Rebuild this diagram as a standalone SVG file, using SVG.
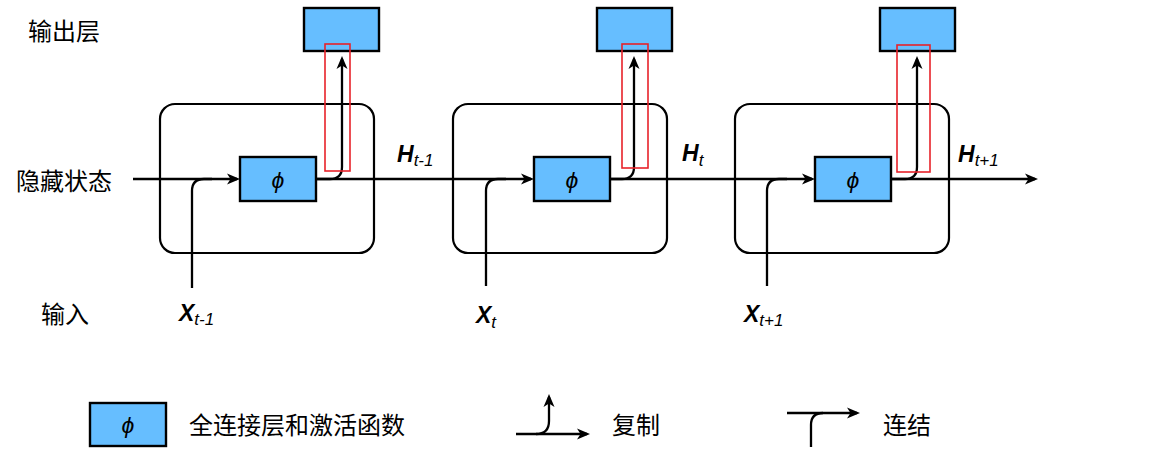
<svg xmlns="http://www.w3.org/2000/svg" width="1157" height="473" viewBox="0 0 1157 473">
<style>
.cell{fill:none;stroke:#000;stroke-width:2.2}
.box{fill:#66BEFF;stroke:#000;stroke-width:2.4}
.red{fill:none;stroke:#E8222A;stroke-width:1.6}
.ln{fill:none;stroke:#000;stroke-width:2.3}
.arr{marker-end:url(#ah)}
.cjk{font-family:"Noto Sans CJK SC","Noto Sans",sans-serif;font-size:24px;fill:#000}
.lab{font-family:"Liberation Sans",Arial,sans-serif;font-size:23px;font-weight:bold;font-style:italic;fill:#000}
.sub{font-size:17px;font-weight:normal}
.phi{font-family:"Liberation Sans",Arial,sans-serif;font-size:23px;font-style:italic;fill:#000;text-anchor:middle}
</style>
<defs>
<marker id="ah" markerUnits="userSpaceOnUse" markerWidth="16" markerHeight="14" refX="10" refY="5.5" orient="auto" overflow="visible">
<path d="M0,0 L13,5.5 L0,11 L3.5,5.5 Z" fill="#000"/>
</marker>
</defs>
<rect width="1157" height="473" fill="#fff"/>
<g id="row-labels">
<text class="cjk" x="64" y="40" text-anchor="middle">输出层</text>
<text class="cjk" x="64" y="190" text-anchor="middle">隐藏状态</text>
<text class="cjk" x="65" y="323" text-anchor="middle">输入</text>
</g>
<g id="cell1">
<rect class="cell" x="160" y="104" width="214" height="149" rx="15"/>
<rect class="box" x="240" y="157" width="76" height="44"/>
<text class="phi" x="278" y="188">ϕ</text>
</g>
<g id="out1"><rect class="box" x="304" y="8" width="75" height="43"/></g>
<g id="cell2">
<rect class="cell" x="453" y="104" width="214" height="149" rx="15"/>
<rect class="box" x="534" y="157" width="76" height="44"/>
<text class="phi" x="572" y="188">ϕ</text>
</g>
<g id="out2"><rect class="box" x="597" y="8" width="75" height="43"/></g>
<g id="cell3">
<rect class="cell" x="735" y="104" width="214" height="149" rx="15"/>
<rect class="box" x="815" y="157" width="76" height="44"/>
<text class="phi" x="853" y="188">ϕ</text>
</g>
<g id="out3"><rect class="box" x="880" y="8" width="75" height="43"/></g>
<g id="connectors">
<path class="ln arr" d="M133,179 H237"/>
<path class="ln" d="M192,288 V191 Q192,179 204,179 H212"/>
<path class="ln arr" d="M317,179 H531"/>
<path class="ln arr" d="M317,179 H330 Q342,179 342,167 V59"/>
<path class="ln" d="M486,286 V191 Q486,179 498,179 H506"/>
<path class="ln arr" d="M611,179 H812"/>
<path class="ln arr" d="M611,179 H622 Q634,179 634,167 V59"/>
<path class="ln" d="M767,286 V191 Q767,179 779,179 H787"/>
<path class="ln arr" d="M892,179 H1035"/>
<path class="ln arr" d="M892,179 H905 Q917,179 917,167 V59"/>
</g>
<g id="highlights">
<rect class="red" x="325" y="44" width="25" height="127"/>
<rect class="red" x="622" y="44" width="26" height="124"/>
<rect class="red" x="897" y="45" width="33" height="127"/>
</g>
<g id="state-labels">
<text class="lab" x="397" y="162">H<tspan class="sub" dy="4">t-1</tspan></text>
<text class="lab" x="682" y="161">H<tspan class="sub" dy="5">t</tspan></text>
<text class="lab" x="958" y="162">H<tspan class="sub" dy="4">t+1</tspan></text>
<text class="lab" x="179" y="321">X<tspan class="sub" dy="4">t-1</tspan></text>
<text class="lab" x="476" y="323">X<tspan class="sub" dy="5">t</tspan></text>
<text class="lab" x="744" y="322">X<tspan class="sub" dy="4">t+1</tspan></text>
</g>
<g id="legend-fc">
<rect class="box" x="90" y="403" width="76" height="43"/>
<text class="phi" x="128" y="433">ϕ</text>
<text class="cjk" x="189" y="434">全连接层和激活函数</text>
</g>
<g id="legend-copy">
<path class="ln arr" d="M516,434 H587"/>
<path class="ln arr" d="M536,434 Q549,434 549,421 V397"/>
<text class="cjk" x="612" y="434">复制</text>
</g>
<g id="legend-concat">
<path class="ln arr" d="M787,413 H857"/>
<path class="ln" d="M811,447 V425 Q811,413 823,413"/>
<text class="cjk" x="883" y="434">连结</text>
</g>
</svg>
